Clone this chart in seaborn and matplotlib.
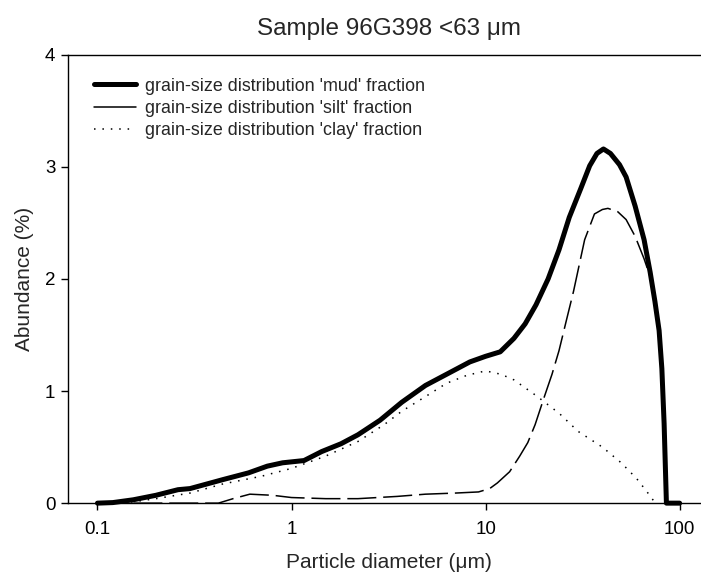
import numpy as np
import pandas as pd
import matplotlib
matplotlib.use("Agg")
import matplotlib.pyplot as plt
from matplotlib.lines import Line2D
from matplotlib.ticker import FixedLocator, FixedFormatter, NullLocator
import seaborn as sns

# grain-size distributions of sample 96G398 (<63 um)
mud_size = [0.1, 0.12, 0.153, 0.2, 0.26, 0.3, 0.443, 0.6, 0.75, 0.9, 1.16,
            1.43, 1.8, 2.2, 2.86, 3.7, 4.9, 6.3, 8.3, 10, 11.9, 14, 16, 18.2,
            21, 23.9, 27, 31, 34.4, 37.5, 40.5, 44, 49, 53, 59, 65.6, 70.5,
            74.6, 78.4, 81, 83.2, 85.5, 100]
mud_pct = [0.0, 0.005, 0.03, 0.07, 0.12, 0.13, 0.21, 0.27, 0.33, 0.36, 0.38,
           0.46, 0.53, 0.61, 0.74, 0.90, 1.05, 1.15, 1.26, 1.31, 1.35, 1.47,
           1.60, 1.77, 2.00, 2.26, 2.55, 2.81, 3.01, 3.12, 3.16, 3.12, 3.02,
           2.91, 2.65, 2.35, 2.06, 1.80, 1.54, 1.20, 0.71, 0.0, 0.0]

silt_size = [0.1, 0.2, 0.3, 0.42, 0.5, 0.61, 0.8, 1.0, 1.5, 2.2, 3.5, 4.9,
             7, 9.2, 10.5, 11.5, 13.3, 15, 16.5, 18, 20, 22, 23.9, 26, 28.4,
             32.4, 36.4, 40, 42.7, 48, 53, 59, 65.6, 70.5, 74.6, 78.4, 81,
             83.2, 85.5, 100]
silt_pct = [0.0, 0.0, 0.0, 0.0, 0.04, 0.08, 0.07, 0.05, 0.04, 0.04, 0.06,
            0.08, 0.09, 0.10, 0.13, 0.18, 0.28, 0.42, 0.54, 0.70, 0.94, 1.15,
            1.36, 1.62, 1.89, 2.35, 2.58, 2.62, 2.63, 2.60, 2.53, 2.38, 2.18,
            2.02, 1.80, 1.54, 1.20, 0.71, 0.0, 0.0]

clay_size = [0.1, 0.15, 0.2, 0.3, 0.44, 0.7, 1.0, 1.5, 2.2, 3.0, 3.7, 5.0,
             6.3, 8, 10, 12, 14, 18.2, 24, 30, 40, 50, 60, 68, 75]
clay_pct = [0.0, 0.01, 0.04, 0.09, 0.17, 0.24, 0.31, 0.42, 0.55, 0.70, 0.82,
            0.96, 1.07, 1.14, 1.18, 1.15, 1.10, 0.96, 0.80, 0.64, 0.50, 0.36,
            0.22, 0.10, 0.0]

labels = ["grain-size distribution 'mud' fraction",
          "grain-size distribution 'silt' fraction",
          "grain-size distribution 'clay' fraction"]
x_ticks = [0.1, 1, 10, 100]
x_ticklabels = ["0.1", "1", "10", "100"]
y_ticks = [0, 1, 2, 3, 4]

sns.set_theme(style="white")
plt.rcParams["font.family"] = ["Liberation Sans", "DejaVu Sans"]

fig = plt.figure(figsize=(7.01, 5.77), dpi=100)
ax = fig.add_axes([0.097, 0.128, 0.916, 0.777])
ax.set_xscale("log")

sns.lineplot(x=clay_size, y=clay_pct, ax=ax, color="black", linewidth=1.1,
             estimator=None, sort=False, clip_on=False)
sns.lineplot(x=silt_size, y=silt_pct, ax=ax, color="black", linewidth=1.1,
             estimator=None, sort=False, clip_on=False)
sns.lineplot(x=mud_size, y=mud_pct, ax=ax, color="black", linewidth=3.6,
             estimator=None, sort=False, clip_on=False)
ax.lines[0].set_linestyle((0, (1, 4.5)))
ax.lines[1].set_linestyle((0, (19, 4.5)))
ax.lines[2].set_solid_capstyle("round")
ax.lines[2].set_solid_joinstyle("round")

ax.set_xlim(0.0705, 143.6)
ax.set_ylim(0, 4)
ax.xaxis.set_major_locator(FixedLocator(x_ticks))
ax.xaxis.set_major_formatter(FixedFormatter(x_ticklabels))
ax.xaxis.set_minor_locator(NullLocator())
ax.set_yticks(y_ticks)

for side in ["left", "top", "bottom"]:
    ax.spines[side].set_color("black")
    ax.spines[side].set_linewidth(1.0)
ax.spines["right"].set_visible(False)
ax.tick_params(axis="both", direction="out", length=5, width=1.0,
               color="black", labelsize=13.5, labelcolor="black", pad=4,
               bottom=True, left=True)
ax.tick_params(axis="x", pad=8)

ax.set_xlabel("Particle diameter (\u03bcm)", fontsize=15, labelpad=11)
ax.set_ylabel("Abundance (%)", fontsize=15, labelpad=8)
ax.set_title("Sample 96G398 <63 \u03bcm", fontsize=17.5, pad=14)

handles = [Line2D([], [], color="black", linewidth=3.6, solid_capstyle="round"),
           Line2D([], [], color="black", linewidth=1.1),
           Line2D([], [], color="black", linewidth=1.1, linestyle=(0, (1, 4.5)))]
ax.legend(handles, labels, loc="upper left", bbox_to_anchor=(0.0405, 0.949),
          frameon=False, fontsize=12.9, handlelength=2.35, handletextpad=0.5,
          labelspacing=0.3, borderpad=0, borderaxespad=0)

fig.savefig("out.png", dpi=100, facecolor="white")
